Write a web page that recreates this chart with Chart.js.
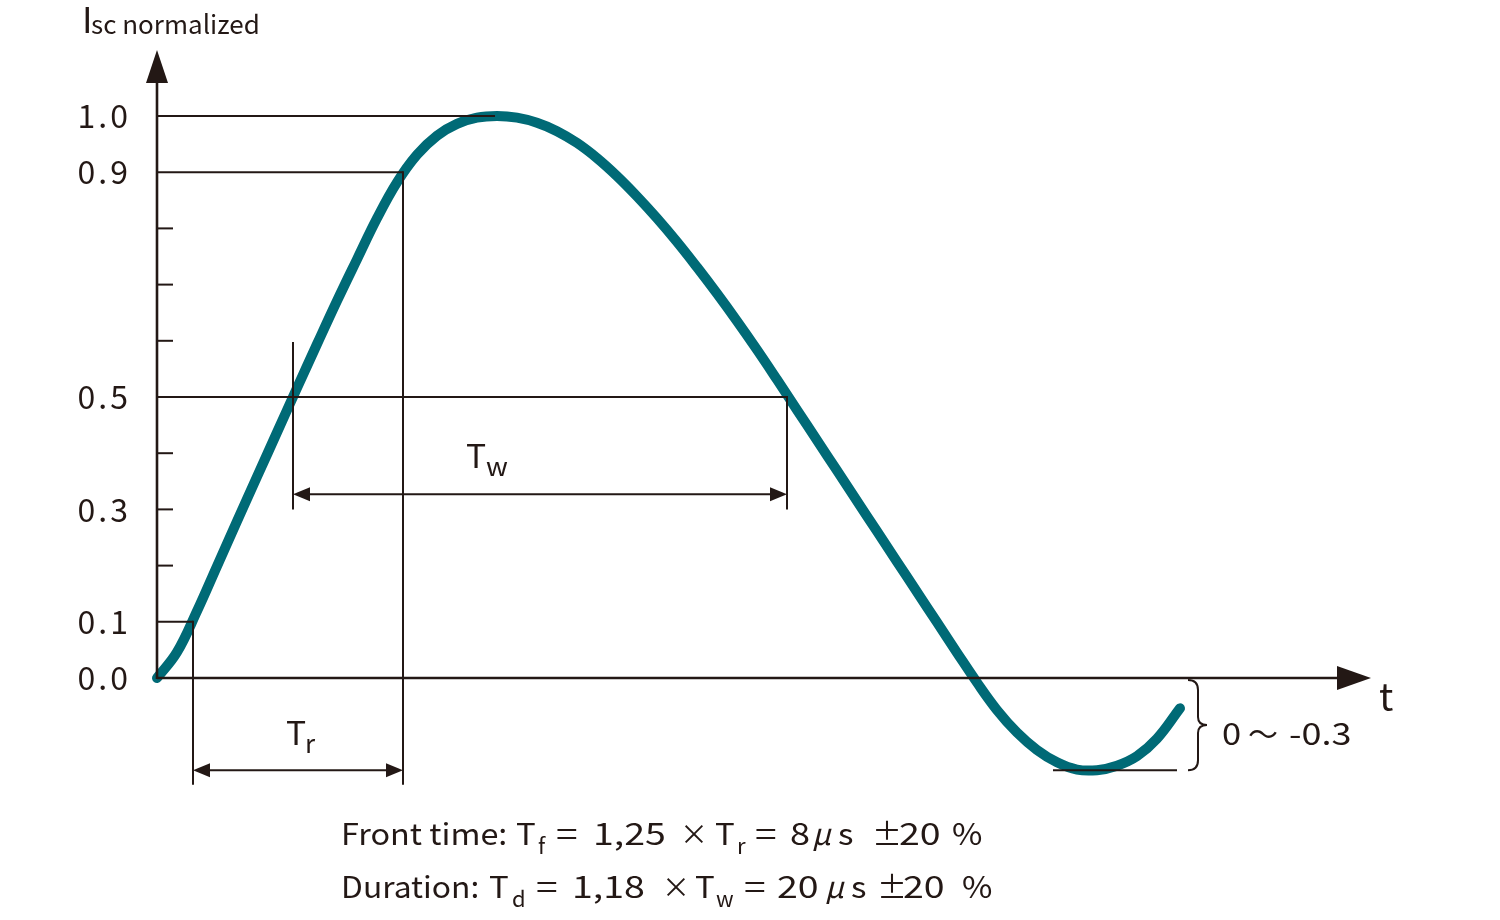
<!DOCTYPE html>
<html>
<head>
<meta charset="utf-8">
<script src="https://cdn.jsdelivr.net/npm/chart.js@4.4.0/dist/chart.umd.min.js"></script>
<style>
html,body{margin:0;padding:0;background:#fff;}
#wrap{position:relative;width:1500px;height:920px;}
</style>
</head>
<body>
<div id="wrap"><canvas id="c" width="1500" height="920"></canvas></div>
<script>
// ---- data ----
const tValues   = [0, 2, 4, 6, 8, 10, 12, 14, 16, 18, 20, 22, 24, 26, 28, 30, 32, 34, 36, 38, 40, 42, 44, 46, 48, 50,
                   52, 54, 56, 58, 60, 62, 64, 66, 68, 70, 72, 74, 76, 78, 80, 82, 84, 86, 88, 90, 92, 94, 96, 98, 100, 102.3];
const iscValues = [0, 0.046, 0.119, 0.199, 0.279, 0.358, 0.437, 0.516, 0.594, 0.671, 0.745, 0.818, 0.882, 0.931, 0.965, 0.986, 0.997, 1.0,
                   0.997, 0.988, 0.973, 0.952, 0.925, 0.893, 0.857, 0.818, 0.776, 0.731, 0.684, 0.635, 0.584, 0.531, 0.477, 0.423, 0.369,
                   0.315, 0.261, 0.207, 0.153, 0.099, 0.045, -0.008, -0.057, -0.097, -0.128, -0.15, -0.163, -0.164, -0.156, -0.139, -0.108, -0.054];
const yTickValues = [0, 0.1, 0.2, 0.3, 0.4, 0.5, 0.6, 0.7, 0.8, 0.9, 1.0];
const yTickLabels = ['0.0', '0.1', '', '0.3', '', '0.5', '', '', '', '0.9', '1.0'];
const minorTicks  = [0.2, 0.3, 0.4, 0.6, 0.7, 0.8];
// reference levels / times (data units)
const tAt01 = 3.6, tAt09 = 24.6, tAt05a = 13.6, tAt05b = 63.0, tPeakEnd = 33.8;
const twArrowY = 0.327, twTickTop = 0.598, twTickBottom = 0.3;
const trArrowY = -0.164, trTickBottom = -0.19;
const minLevel = -0.164, minLineStart = 89.6, minLineEnd = 102.0, braceT = 103.1;

const INK = '#231815';
const TEAL = '#006a76';
const FONT = '"Noto Sans CJK JP", "Noto Sans", sans-serif';

// text segments: [text, x, dy, size, italic, scaleX]
const line1 = [['Front time:', 341, 0, 30, false, 1.08], ['T', 516, 0, 30, false, 1.1], ['f', 538, 9, 22], ['=', 556, 0, 30, false, 1.3], ['1,25', 593, 0, 30, false, 1.25],
  ['\u00D7', 680, 0, 28], ['T', 715, 0, 30, false, 1.1], ['r', 737, 9, 22], ['=', 755, 0, 30, false, 1.3], ['8', 790, 0, 30, false, 1.2], ['\u03BC', 812, 0, 30, true],
  ['s', 838, 0, 30, false, 1.1], ['\u00B1', 872, 0, 30], ['20', 899, 0, 30, false, 1.25], ['%', 952, 0, 30, false, 1.1]];
const line2 = [['Duration:', 341, 0, 30, false, 1.06], ['T', 489, 0, 30, false, 1.1], ['d', 512, 9, 22], ['=', 536, 0, 30, false, 1.3], ['1,18', 572, 0, 30, false, 1.25],
  ['\u00D7', 662, 0, 28], ['T', 695, 0, 30, false, 1.1], ['w', 716, 9, 22], ['=', 744, 0, 30, false, 1.3], ['20', 777, 0, 30, false, 1.25], ['\u03BC', 825, 0, 30, true],
  ['s', 851, 0, 30, false, 1.1], ['\u00B1', 877, 0, 30], ['20', 903, 0, 30, false, 1.25], ['%', 962, 0, 30, false, 1.1]];

function drawSegs(ctx, y, segs) {
  ctx.letterSpacing = '0px';
  for (const s of segs) {
    const [txt, x, dy, size, it, sx] = s;
    ctx.font = (it ? 'italic ' : '') + size + 'px ' + FONT;
    ctx.save();
    ctx.translate(x, y + (dy || 0));
    ctx.scale(sx || 1, 1);
    ctx.fillText(txt, 0, 0);
    ctx.restore();
  }
}

const annot = {
  id: 'annot',
  beforeDraw(chart) { chart.ctx.letterSpacing = '3px'; },
  afterDatasetsDraw(chart) {
    const ctx = chart.ctx;
    const xs = chart.scales.x, ys = chart.scales.y;
    const X = v => xs.getPixelForValue(v), Y = v => ys.getPixelForValue(v);
    const x0 = X(0), y0 = Y(0);
    ctx.save();
    ctx.strokeStyle = INK; ctx.fillStyle = INK; ctx.lineCap = 'butt';
    const line = (a, b, c, d, w) => { ctx.lineWidth = w || 2; ctx.beginPath(); ctx.moveTo(a, b); ctx.lineTo(c, d); ctx.stroke(); };
    const tri = (p) => { ctx.beginPath(); ctx.moveTo(p[0], p[1]); ctx.lineTo(p[2], p[3]); ctx.lineTo(p[4], p[5]); ctx.closePath(); ctx.fill(); };

    // axes
    line(x0, y0 + 1, x0, 82, 2.6);
    tri([x0, 50, x0 - 11, 83, x0 + 11, 83]);
    line(x0, y0, 1340, y0, 2.6);
    tri([1371, y0, 1337, y0 - 12, 1337, y0 + 12]);

    // minor ticks
    for (const v of minorTicks) line(x0, Y(v), x0 + 16, Y(v), 2);

    // level lines
    line(x0, Y(1.0), X(tPeakEnd), Y(1.0), 2);
    line(x0, Y(0.9), X(tAt09), Y(0.9), 2);
    line(X(tAt09), Y(0.9) - 1, X(tAt09), Y(trTickBottom), 2);
    line(x0, Y(0.1), X(tAt01), Y(0.1), 2);
    line(X(tAt01), Y(0.1) - 1, X(tAt01), Y(trTickBottom), 2);
    line(x0, Y(0.5), X(tAt05b), Y(0.5), 2);
    line(X(tAt05a), Y(twTickTop), X(tAt05a), Y(twTickBottom), 2);
    line(X(tAt05b), Y(0.5) - 1, X(tAt05b), Y(twTickBottom), 2);

    // Tw arrow
    const ya = Y(twArrowY);
    line(X(tAt05a) + 10, ya, X(tAt05b) - 10, ya, 2);
    tri([X(tAt05a), ya, X(tAt05a) + 17, ya - 7, X(tAt05a) + 17, ya + 7]);
    tri([X(tAt05b), ya, X(tAt05b) - 17, ya - 7, X(tAt05b) - 17, ya + 7]);
    // Tr arrow
    const yr = Y(trArrowY);
    line(X(tAt01) + 10, yr, X(tAt09) - 10, yr, 2);
    tri([X(tAt01), yr, X(tAt01) + 17, yr - 7, X(tAt01) + 17, yr + 7]);
    tri([X(tAt09), yr, X(tAt09) - 17, yr - 7, X(tAt09) - 17, yr + 7]);

    // minimum line
    line(X(minLineStart), Y(minLevel), X(minLineEnd), Y(minLevel), 2);

    // brace
    const bx = X(braceT), bt = Y(0) + 2, bb = Y(minLevel), bm = (bt + bb) / 2;
    ctx.lineWidth = 2;
    ctx.beginPath();
    ctx.moveTo(bx, bt);
    ctx.quadraticCurveTo(bx + 10, bt, bx + 10, bt + 10);
    ctx.lineTo(bx + 10, bm - 8);
    ctx.quadraticCurveTo(bx + 10, bm, bx + 19, bm);
    ctx.quadraticCurveTo(bx + 10, bm, bx + 10, bm + 8);
    ctx.lineTo(bx + 10, bb - 10);
    ctx.quadraticCurveTo(bx + 10, bb, bx, bb);
    ctx.stroke();

    // texts
    ctx.textBaseline = 'alphabetic'; ctx.textAlign = 'left';
    drawSegs(ctx, 33, [['I', 82, 0, 36], ['sc normalized', 91, 1, 26, false, 1.0]]);
    drawSegs(ctx, 468, [['T', 466, 0, 32, false, 1.05], ['w', 486, 8, 26, false, 1.05]]);
    drawSegs(ctx, 745, [['T', 286, 0, 32, false, 1.05], ['r', 305, 8, 26]]);
    drawSegs(ctx, 711, [['t', 1379, 0, 38]]);
    drawSegs(ctx, 745, [['0', 1222, 0, 30, false, 1.15], ['\u301C', 1248, 0, 30], ['-0.3', 1289, 0, 30, false, 1.2]]);
    drawSegs(ctx, 845, line1);
    drawSegs(ctx, 898, line2);
    ctx.restore();
  },
  afterDraw(chart) { chart.ctx.letterSpacing = '0px'; }
};

const chart = new Chart(document.getElementById('c'), {
  type: 'line',
  data: {
    datasets: [{
      data: tValues.map((t, i) => ({ x: t, y: iscValues[i] })),
      borderColor: TEAL,
      borderWidth: 10,
      borderCapStyle: 'round',
      borderJoinStyle: 'round',
      pointRadius: 0,
      tension: 0.4,
      fill: false,
      clip: false
    }]
  },
  options: {
    responsive: false,
    animation: false,
    devicePixelRatio: 1,
    layout: { padding: { left: 0, right: 143, top: 59.8, bottom: 129.6 } },
    plugins: { legend: { display: false }, tooltip: { enabled: false } },
    scales: {
      x: { type: 'linear', min: 0, max: 120, display: false },
      y: {
        type: 'linear', min: -0.2, max: 1.1,
        afterFit(s) { s.width = 157; },
        afterBuildTicks(s) { s.ticks = yTickValues.map(v => ({ value: v })); },
        grid: { display: false, drawTicks: false },
        border: { display: false },
        ticks: {
          padding: 26,
          color: INK,
          font: { family: FONT, size: 32 },
          callback(v) { const i = yTickValues.findIndex(t => Math.abs(t - v) < 1e-6); return i >= 0 ? yTickLabels[i] : ''; }
        }
      }
    }
  },
  plugins: [annot]
});
</script>
</body>
</html>
